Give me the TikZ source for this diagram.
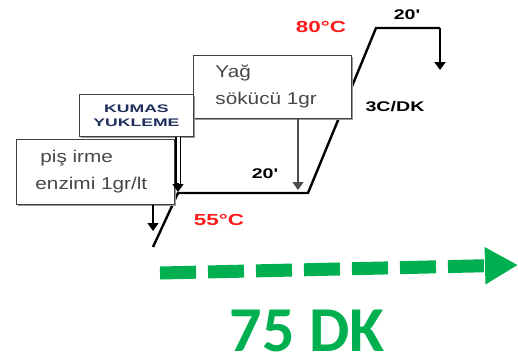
\documentclass[tikz,border=0pt]{standalone}
\usepackage{fontspec}
\setmainfont{Liberation Sans}[FakeStretch=1.22]
\newfontfamily\lblfont{Liberation Sans}[FakeStretch=1.4]
\newfontfamily\kumafont{Liberation Sans}[FakeStretch=1.6]
\newfontfamily\bigfont{Carlito}
\usetikzlibrary{arrows.meta,positioning,calc,shadows}
\definecolor{profRed}{HTML}{FF1A1A}
\definecolor{profGreen}{HTML}{00B050}
\definecolor{profNavy}{HTML}{1F2F5C}
\definecolor{profGray}{HTML}{474747}

\begin{document}
\begin{tikzpicture}[x=1bp,y=-1bp,
    stepbox/.style={draw=black!75,fill=white,line width=0.9bp,anchor=north west,
                  inner ysep=0pt,align=left,text=profGray,
                  font=\fontsize{17bp}{27bp}\selectfont,
                  drop shadow={shadow xshift=1.6bp,shadow yshift=-1.6bp,fill=gray!80,opacity=1}},
    temp/.style={text=profRed,font=\lblfont\bfseries\fontsize{16bp}{18bp}\selectfont},
    lbl/.style={text=black,font=\lblfont\bfseries\fontsize{14bp}{16bp}\selectfont},
    prof/.style={line width=2.4bp,line join=miter},
    arr/.style={-{Triangle[length=8bp,width=11bp]},line width=1.3bp},
    garr/.style={-{Triangle[length=33bp,width=35bp]},profGreen,line width=13bp,
                 dash pattern=on 36bp off 12bp}]
  \useasboundingbox (0,0) rectangle (518,358);
  % temperature profile
  \coordinate (p0) at (153,247);
  \coordinate (p1) at (178,193);
  \coordinate (p2) at (308,193);
  \coordinate (p3) at (376,28);
  \coordinate (p4) at (440,28);
  \coordinate (p5) at (440,70);
  \draw[prof] (p0) -- (p1) -- (p2) -- (p3) -- (p4);
  \draw[arr,line width=2bp] (p4) -- (p5);
  % process boxes
  \node[stepbox,minimum width=158bp,minimum height=63bp,inner xsep=22bp,text width=114bp]
    (yag) at (193,55) {Yağ\\sökücü 1gr};
  \node[stepbox,minimum width=114bp,minimum height=42bp,inner xsep=0pt,align=center,
        text=profNavy,font=\kumafont\bfseries\fontsize{11bp}{14bp}\selectfont]
    (kuma) at (79,94) {KUMAS\\YUKLEME};
  \node[stepbox,minimum width=158bp,minimum height=65bp,inner xsep=19bp,text width=120bp]
    (enz) at (16,139) {\hspace*{5bp}piş irme\\enzimi 1gr/lt};
  % dosing arrows
  \coordinate (e1) at (153,231);
  \coordinate (k1) at (178,192);
  \coordinate (y1) at (298,190);
  \draw[arr] (enz.south -| e1) -- (e1);
  \draw[double,double distance=3bp,line width=1.1bp,shorten >=7bp] (kuma.south -| k1) -- (k1);
  \draw[arr] ($(k1)+(0,-9)$) -- (k1);
  \draw[arr,draw=black!70] (yag.south -| y1) -- (y1);
  % labels
  \node[temp] (t80) at (321,27) {80°C};
  \node[temp] (t55) at (219,220) {55°C};
  \node[lbl] (d1) at (407,15) {20'};
  \node[lbl] (d2) at (265,174) {20'};
  \node[lbl] (rate) at (395,107) {3C/DK};
  % total time
  \coordinate (g0) at (160,273);
  \coordinate (g1) at (518,265);
  \draw[garr] (g0) -- (g1);
  \node[inner sep=0pt,text=profGreen,font=\bigfont\bfseries\fontsize{64bp}{70bp}\selectfont]
    (total) at (307,331) {75 DK};
\end{tikzpicture}
\end{document}
